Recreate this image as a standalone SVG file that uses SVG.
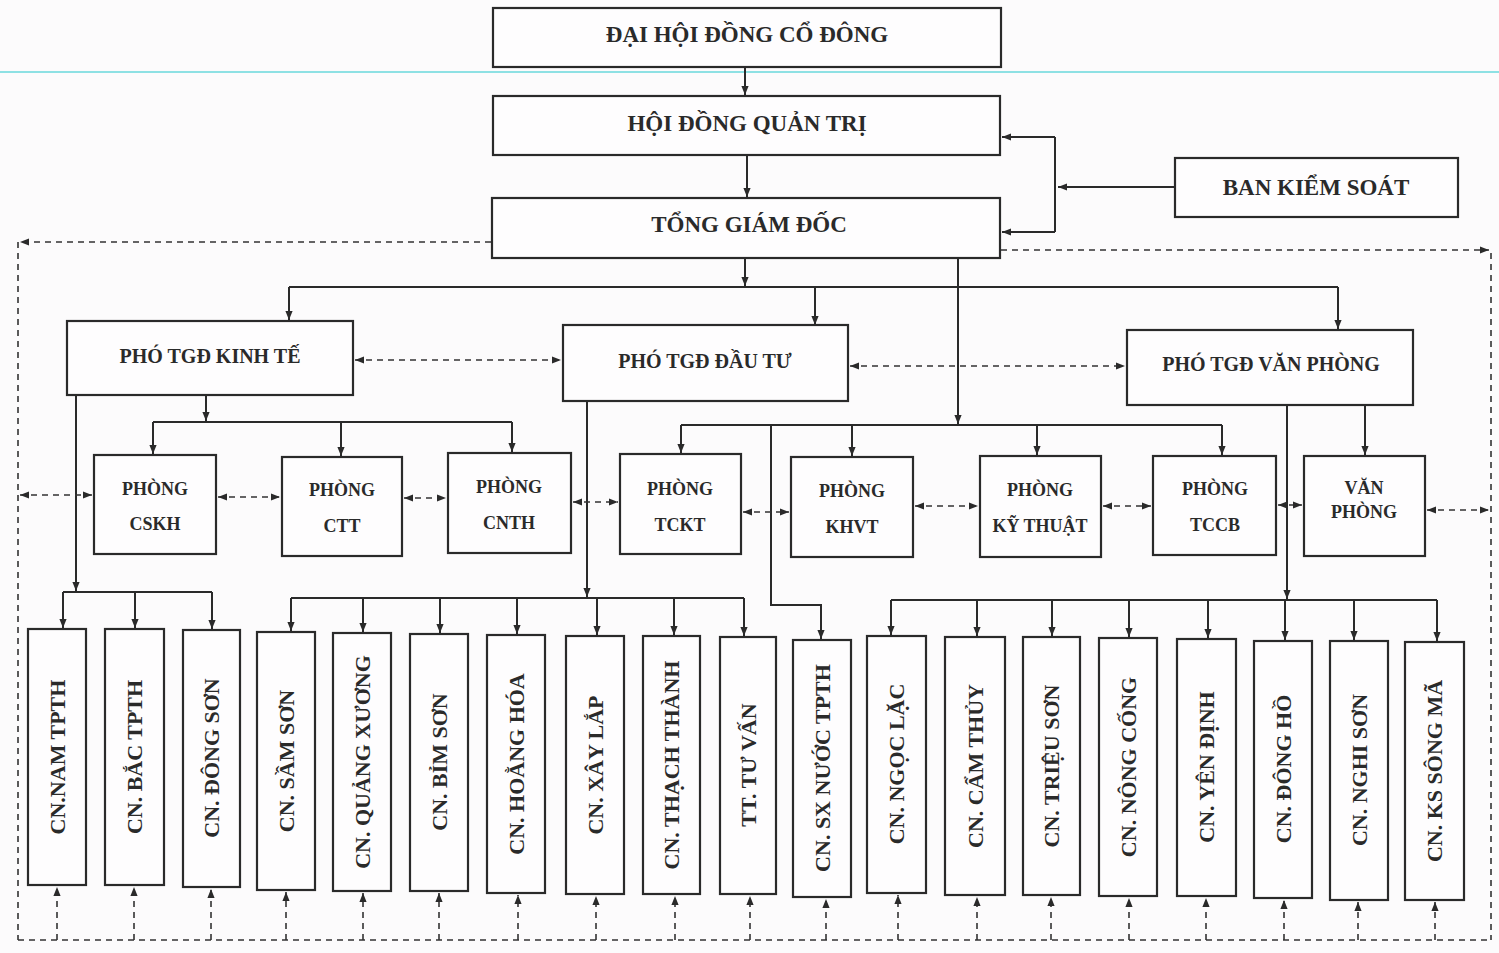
<svg xmlns="http://www.w3.org/2000/svg" width="1499" height="953" viewBox="0 0 1499 953">
<style>
.bx{fill:#fefdfe;stroke:#2a2a2a;stroke-width:2.2}
.t{font-family:"Liberation Serif","DejaVu Serif",serif;font-weight:bold;fill:#2a2a2a;text-anchor:middle;dominant-baseline:central}
.big{font-size:23px}
.mid{font-size:20px}
.sm{font-size:18px}
.vt{font-size:22px}
.ln{fill:none;stroke:#2a2a2a;stroke-width:2}
.ds{fill:none;stroke:#333;stroke-width:1.6;stroke-dasharray:6 5}
</style>
<defs>
<marker id="a" viewBox="0 0 10 10" refX="10" refY="5" markerWidth="9" markerHeight="9" markerUnits="userSpaceOnUse" orient="auto-start-reverse"><path d="M0,1 L10,5 L0,9 z" fill="#2a2a2a"/></marker>
</defs>
<rect width="1499" height="953" fill="#fcfbfc"/>
<line x1="0" y1="72" x2="1499" y2="72" stroke="#6ad9dc" stroke-width="1.5"/>

<g id="connectors">
<path class="ln" d="M745,67 V95" marker-end="url(#a)"/>
<path class="ln" d="M747,155 V197" marker-end="url(#a)"/>
<path class="ln" d="M1175,187 H1058" marker-end="url(#a)"/>
<path class="ln" d="M1055,137 V232"/>
<path class="ln" d="M1055,137 H1002" marker-end="url(#a)"/>
<path class="ln" d="M1055,232 H1002" marker-end="url(#a)"/>
<path class="ln" d="M745,258 V286" marker-end="url(#a)"/>
<path class="ln" d="M289,287 H1338"/>
<path class="ln" d="M289,287 V320" marker-end="url(#a)"/>
<path class="ln" d="M815,287 V325" marker-end="url(#a)"/>
<path class="ln" d="M1338,287 V329" marker-end="url(#a)"/>
<path class="ln" d="M958,258 V424" marker-end="url(#a)"/>
<path class="ln" d="M681,425 H1222"/>
<path class="ln" d="M681,425 V453" marker-end="url(#a)"/>
<path class="ln" d="M852,425 V456" marker-end="url(#a)"/>
<path class="ln" d="M1037,425 V455" marker-end="url(#a)"/>
<path class="ln" d="M1222,425 V455" marker-end="url(#a)"/>
<path class="ln" d="M771,425 V605 H821 V639" marker-end="url(#a)"/>
<path class="ln" d="M206,395 V421" marker-end="url(#a)"/>
<path class="ln" d="M153,422 H512"/>
<path class="ln" d="M153,422 V454" marker-end="url(#a)"/>
<path class="ln" d="M341,422 V456" marker-end="url(#a)"/>
<path class="ln" d="M512,422 V452" marker-end="url(#a)"/>
<path class="ln" d="M76,395 V591" marker-end="url(#a)"/>
<path class="ln" d="M63,592 H212"/>
<path class="ln" d="M63,592 V628" marker-end="url(#a)"/>
<path class="ln" d="M135,592 V628" marker-end="url(#a)"/>
<path class="ln" d="M212,592 V629" marker-end="url(#a)"/>
<path class="ln" d="M587,401 V597" marker-end="url(#a)"/>
<path class="ln" d="M291,598 H744"/>
<path class="ln" d="M291,598 V631" marker-end="url(#a)"/>
<path class="ln" d="M363,598 V632" marker-end="url(#a)"/>
<path class="ln" d="M440,598 V633" marker-end="url(#a)"/>
<path class="ln" d="M517,598 V634" marker-end="url(#a)"/>
<path class="ln" d="M597,598 V635" marker-end="url(#a)"/>
<path class="ln" d="M674,598 V635" marker-end="url(#a)"/>
<path class="ln" d="M744,598 V636" marker-end="url(#a)"/>
<path class="ln" d="M1287,405 V599" marker-end="url(#a)"/>
<path class="ln" d="M1365,405 V455" marker-end="url(#a)"/>
<path class="ln" d="M891,600 H1437"/>
<path class="ln" d="M891,600 V635" marker-end="url(#a)"/>
<path class="ln" d="M977,600 V636" marker-end="url(#a)"/>
<path class="ln" d="M1052,600 V636" marker-end="url(#a)"/>
<path class="ln" d="M1129,600 V637" marker-end="url(#a)"/>
<path class="ln" d="M1208,600 V638" marker-end="url(#a)"/>
<path class="ln" d="M1285,600 V640" marker-end="url(#a)"/>
<path class="ln" d="M1354,600 V640" marker-end="url(#a)"/>
<path class="ln" d="M1437,600 V641" marker-end="url(#a)"/>

<path class="ds" d="M491,242 H20" marker-end="url(#a)"/>
<path class="ds" d="M18,242 V940"/>
<path class="ds" d="M1001,250 H1489" marker-end="url(#a)"/>
<path class="ds" d="M1491,253 V940"/>
<path class="ds" d="M18,940 H1491"/>
<path class="ds" d="M355,360 H561" marker-start="url(#a)" marker-end="url(#a)"/>
<path class="ds" d="M850,366 H1125" marker-start="url(#a)" marker-end="url(#a)"/>
<path class="ds" d="M20,495 H92" marker-start="url(#a)" marker-end="url(#a)"/>
<path class="ds" d="M218,497 H280" marker-start="url(#a)" marker-end="url(#a)"/>
<path class="ds" d="M404,498 H446" marker-start="url(#a)" marker-end="url(#a)"/>
<path class="ds" d="M573,502 H618" marker-start="url(#a)" marker-end="url(#a)"/>
<path class="ds" d="M743,512 H789" marker-start="url(#a)" marker-end="url(#a)"/>
<path class="ds" d="M915,506 H978" marker-start="url(#a)" marker-end="url(#a)"/>
<path class="ds" d="M1103,506 H1151" marker-start="url(#a)" marker-end="url(#a)"/>
<path class="ds" d="M1278,505 H1302" marker-start="url(#a)" marker-end="url(#a)"/>
<path class="ds" d="M1427,510 H1489" marker-start="url(#a)" marker-end="url(#a)"/>

<path class="ds" d="M57,940 V887" marker-end="url(#a)"/>
<path class="ds" d="M134,940 V887" marker-end="url(#a)"/>
<path class="ds" d="M211,940 V889" marker-end="url(#a)"/>
<path class="ds" d="M286,940 V892" marker-end="url(#a)"/>
<path class="ds" d="M363,940 V893" marker-end="url(#a)"/>
<path class="ds" d="M439,940 V893" marker-end="url(#a)"/>
<path class="ds" d="M518,940 V895" marker-end="url(#a)"/>
<path class="ds" d="M596,940 V896" marker-end="url(#a)"/>
<path class="ds" d="M675,940 V896" marker-end="url(#a)"/>
<path class="ds" d="M750,940 V896" marker-end="url(#a)"/>
<path class="ds" d="M826,940 V899" marker-end="url(#a)"/>
<path class="ds" d="M898,940 V895" marker-end="url(#a)"/>
<path class="ds" d="M977,940 V897" marker-end="url(#a)"/>
<path class="ds" d="M1051,940 V897" marker-end="url(#a)"/>
<path class="ds" d="M1129,940 V898" marker-end="url(#a)"/>
<path class="ds" d="M1206,940 V898" marker-end="url(#a)"/>
<path class="ds" d="M1284,940 V900" marker-end="url(#a)"/>
<path class="ds" d="M1358,940 V902" marker-end="url(#a)"/>
<path class="ds" d="M1435,940 V902" marker-end="url(#a)"/>
</g>

<g id="dhdcd"><rect class="bx" x="493" y="8" width="508" height="59"/><text class="t big" x="747" y="34">ĐẠI HỘI ĐỒNG CỔ ĐÔNG</text></g>
<g id="hdqt"><rect class="bx" x="493" y="96" width="507" height="59"/><text class="t big" x="747" y="123">HỘI ĐỒNG QUẢN TRỊ</text></g>
<g id="tgd"><rect class="bx" x="492" y="198" width="508" height="60"/><text class="t big" x="749" y="224">TỔNG GIÁM ĐỐC</text></g>
<g id="bks"><rect class="bx" x="1175" y="158" width="283" height="59"/><text class="t big" x="1316" y="187">BAN KIỂM SOÁT</text></g>

<g id="pho-kt"><rect class="bx" x="67" y="321" width="286" height="74"/><text class="t mid" x="210" y="356">PHÓ TGĐ KINH TẾ</text></g>
<g id="pho-dt"><rect class="bx" x="563" y="325" width="285" height="76"/><text class="t mid" x="705" y="361">PHÓ TGĐ ĐẦU TƯ</text></g>
<g id="pho-vp"><rect class="bx" x="1127" y="330" width="286" height="75"/><text class="t mid" x="1271" y="364">PHÓ TGĐ VĂN PHÒNG</text></g>

<g id="p-cskh"><rect class="bx" x="94" y="455" width="122" height="99"/><text class="t sm" x="155" y="489">PHÒNG</text><text class="t sm" x="155" y="524">CSKH</text></g>
<g id="p-ctt"><rect class="bx" x="282" y="457" width="120" height="99"/><text class="t sm" x="342" y="490">PHÒNG</text><text class="t sm" x="342" y="526">CTT</text></g>
<g id="p-cnth"><rect class="bx" x="448" y="453" width="123" height="100"/><text class="t sm" x="509" y="487">PHÒNG</text><text class="t sm" x="509" y="523">CNTH</text></g>
<g id="p-tckt"><rect class="bx" x="620" y="454" width="121" height="100"/><text class="t sm" x="680" y="489">PHÒNG</text><text class="t sm" x="680" y="525">TCKT</text></g>
<g id="p-khvt"><rect class="bx" x="791" y="457" width="122" height="100"/><text class="t sm" x="852" y="491">PHÒNG</text><text class="t sm" x="852" y="527">KHVT</text></g>
<g id="p-kythuat"><rect class="bx" x="980" y="456" width="121" height="101"/><text class="t sm" x="1040" y="490">PHÒNG</text><text class="t sm" x="1040" y="526">KỸ THUẬT</text></g>
<g id="p-tccb"><rect class="bx" x="1153" y="456" width="123" height="99"/><text class="t sm" x="1215" y="489">PHÒNG</text><text class="t sm" x="1215" y="525">TCCB</text></g>
<g id="p-vanphong"><rect class="bx" x="1304" y="456" width="121" height="100"/><text class="t sm" x="1364" y="488">VĂN</text><text class="t sm" x="1364" y="512">PHÒNG</text></g>

<g id="cn1"><rect class="bx" x="28" y="629" width="58" height="256"/><text class="t vt" transform="translate(57,757) rotate(-90)">CN.NAM TPTH</text></g>
<g id="cn2"><rect class="bx" x="105" y="629" width="59" height="256"/><text class="t vt" transform="translate(134,757) rotate(-90)">CN. BẮC TPTH</text></g>
<g id="cn3"><rect class="bx" x="183" y="630" width="57" height="257"/><text class="t vt" transform="translate(211,758) rotate(-90)">CN. ĐÔNG SƠN</text></g>
<g id="cn4"><rect class="bx" x="257" y="632" width="58" height="258"/><text class="t vt" transform="translate(286,761) rotate(-90)">CN. SẦM SƠN</text></g>
<g id="cn5"><rect class="bx" x="333" y="633" width="58" height="258"/><text class="t vt" transform="translate(362,762) rotate(-90)">CN. QUẢNG XƯƠNG</text></g>
<g id="cn6"><rect class="bx" x="410" y="634" width="58" height="257"/><text class="t vt" transform="translate(439,762) rotate(-90)">CN. BỈM SƠN</text></g>
<g id="cn7"><rect class="bx" x="487" y="635" width="58" height="258"/><text class="t vt" transform="translate(516,764) rotate(-90)">CN. HOẰNG HÓA</text></g>
<g id="cn8"><rect class="bx" x="566" y="636" width="58" height="258"/><text class="t vt" transform="translate(595,765) rotate(-90)">CN. XÂY LẮP</text></g>
<g id="cn9"><rect class="bx" x="643" y="636" width="57" height="258"/><text class="t vt" transform="translate(671,765) rotate(-90)">CN. THẠCH THÀNH</text></g>
<g id="cn10"><rect class="bx" x="720" y="637" width="56" height="257"/><text class="t vt" transform="translate(748,765) rotate(-90)">TT. TƯ VẤN</text></g>
<g id="cn11"><rect class="bx" x="793" y="640" width="58" height="257"/><text class="t vt" transform="translate(822,768) rotate(-90)">CN. SX NƯỚC TPTH</text></g>
<g id="cn12"><rect class="bx" x="867" y="636" width="59" height="257"/><text class="t vt" transform="translate(896,764) rotate(-90)">CN. NGỌC LẶC</text></g>
<g id="cn13"><rect class="bx" x="945" y="637" width="60" height="258"/><text class="t vt" transform="translate(975,766) rotate(-90)">CN. CẨM THỦY</text></g>
<g id="cn14"><rect class="bx" x="1023" y="637" width="57" height="258"/><text class="t vt" transform="translate(1051,766) rotate(-90)">CN. TRIỆU SƠN</text></g>
<g id="cn15"><rect class="bx" x="1099" y="638" width="58" height="258"/><text class="t vt" transform="translate(1128,767) rotate(-90)">CN. NÔNG CỐNG</text></g>
<g id="cn16"><rect class="bx" x="1177" y="639" width="59" height="257"/><text class="t vt" transform="translate(1206,767) rotate(-90)">CN. YÊN ĐỊNH</text></g>
<g id="cn17"><rect class="bx" x="1254" y="641" width="58" height="257"/><text class="t vt" transform="translate(1283,769) rotate(-90)">CN. ĐÔNG HỒ</text></g>
<g id="cn18"><rect class="bx" x="1330" y="641" width="58" height="259"/><text class="t vt" transform="translate(1359,770) rotate(-90)">CN. NGHI SƠN</text></g>
<g id="cn19"><rect class="bx" x="1405" y="642" width="59" height="258"/><text class="t vt" transform="translate(1434,771) rotate(-90)">CN. KS SÔNG MÃ</text></g>
</svg>
